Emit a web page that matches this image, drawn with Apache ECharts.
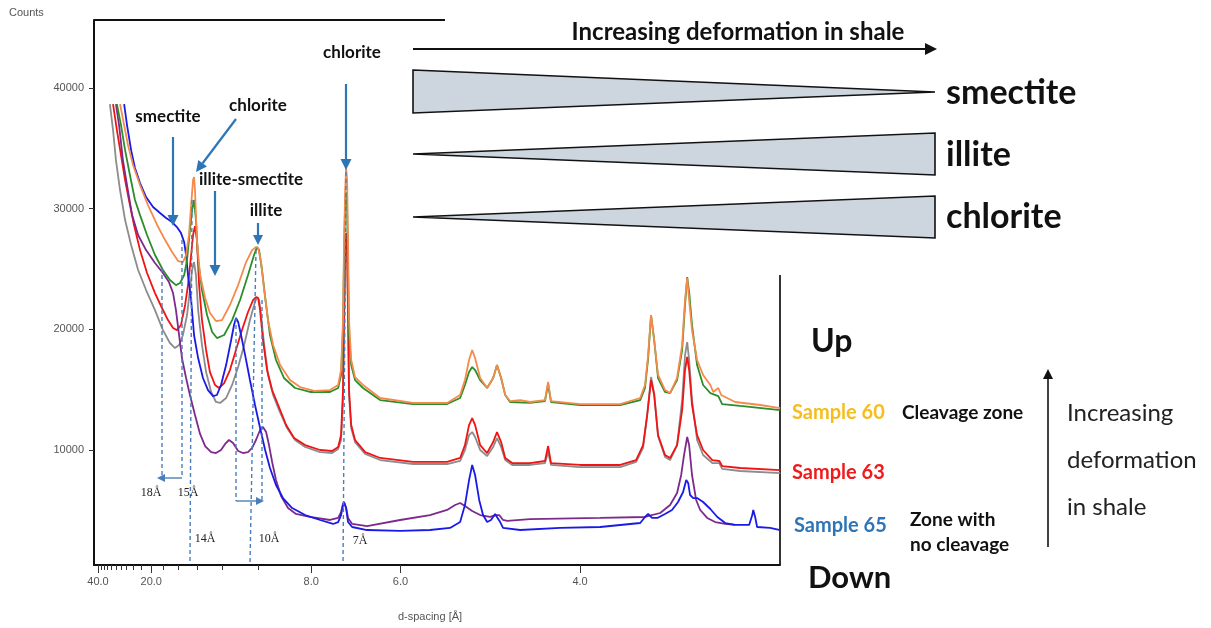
<!DOCTYPE html>
<html><head><meta charset="utf-8">
<script src="https://cdn.jsdelivr.net/npm/echarts@6/dist/echarts.min.js"></script>
<style>html,body{margin:0;padding:0;background:#fff}#c{width:1211px;height:628px}</style>
</head><body><div id="c"></div>
<script>
// ---- DATA (x = 2θ in degrees, Cu Kα; y = counts) ----
const dLabels = [40, 20, 8, 6, 4];
const dMinorTicks = [38, 36, 34, 32, 30, 28, 26, 24, 22, 18, 16, 14, 12, 10];
const yTickValues = [10000, 20000, 30000, 40000];

const s60orange = [[3.12,38670],[3.29,36930],[3.45,35280],[3.66,33620],[3.95,31960],[4.28,30300],[4.66,28650],[4.99,27400],[5.28,26410],[5.53,25660],[5.73,25580],[5.86,26160],[5.98,27820],[6.07,30300],[6.15,32380],[6.19,32620],[6.23,31550],[6.31,27400],[6.44,24500],[6.65,22600],[6.85,21350],[7.10,20690],[7.35,20770],[7.68,22020],[8.02,23670],[8.35,25580],[8.60,26570],[8.76,26820],[8.85,26740],[8.97,25580],[9.10,23260],[9.26,20770],[9.47,18700],[9.76,17040],[10.17,15800],[10.59,15220],[11.21,14890],[11.83,14970],[12.17,15390],[12.29,16630],[12.37,20770],[12.41,26570],[12.46,31550],[12.50,33370],[12.54,32380],[12.58,27400],[12.62,20770],[12.71,17460],[12.87,16050],[13.20,15390],[13.91,14310],[15.28,13900],[16.69,13900],[17.23,14560],[17.43,15800],[17.60,17460],[17.73,18290],[17.85,17620],[18.06,15970],[18.35,15140],[18.60,15970],[18.76,17040],[18.93,15970],[19.10,14560],[19.30,14060],[19.72,14140],[20.13,13980],[20.75,14140],[20.88,15640],[21.00,14060],[22.21,13810],[23.87,13810],[24.70,14310],[24.90,15390],[25.03,17870],[25.15,21190],[25.28,19120],[25.44,16220],[25.73,14970],[25.94,14720],[26.23,15970],[26.44,18700],[26.56,22430],[26.65,24250],[26.73,22430],[26.85,19940],[27.06,17460],[27.31,16220],[27.61,15390],[27.73,14810],[27.94,15140],[28.06,14560],[28.64,13980],[29.68,13730],[30.51,13480]];

const s60green = [[2.99,38670],[3.16,36930],[3.33,34860],[3.53,32790],[3.74,30720],[3.95,29470],[4.24,27820],[4.57,26160],[4.90,24920],[5.19,24090],[5.44,23670],[5.61,23840],[5.78,24500],[5.90,25750],[6.02,28230],[6.11,29890],[6.19,30720],[6.27,29060],[6.36,25750],[6.52,23260],[6.73,21190],[6.94,19780],[7.14,19280],[7.44,19530],[7.77,20770],[8.10,22430],[8.43,24500],[8.68,26160],[8.80,26820],[8.89,26570],[9.01,24920],[9.18,22020],[9.34,19530],[9.59,17460],[9.92,15970],[10.38,15140],[11.00,14810],[11.83,14810],[12.17,15140],[12.29,16220],[12.37,19940],[12.41,25750],[12.46,30720],[12.50,31380],[12.54,29890],[12.58,24920],[12.62,19530],[12.71,17040],[12.87,15800],[13.20,15140],[13.91,14140],[15.28,13810],[16.69,13810],[17.23,14310],[17.43,15390],[17.60,16460],[17.73,16880],[17.85,16630],[18.06,15800],[18.35,15140],[18.60,15970],[18.76,17040],[18.93,15970],[19.10,14560],[19.30,13980],[20.13,13900],[20.75,14060],[20.88,15470],[21.00,13980],[22.21,13730],[23.87,13730],[24.70,14140],[24.90,15140],[25.03,17620],[25.15,21190],[25.28,19120],[25.44,15970],[25.73,14810],[25.94,14720],[26.23,15800],[26.44,18290],[26.56,22020],[26.65,24340],[26.73,23090],[26.85,20360],[27.06,17040],[27.31,15390],[27.61,14720],[27.94,14470],[28.10,13810],[28.85,13650],[30.51,13310]];

const s63red = [[2.83,38670],[2.99,36520],[3.16,34450],[3.33,32380],[3.49,30720],[3.70,28650],[3.95,26570],[4.24,24670],[4.57,23010],[4.86,21770],[5.11,20770],[5.32,20110],[5.48,19940],[5.65,20360],[5.82,22020],[5.94,23670],[6.07,26160],[6.15,27820],[6.23,28560],[6.31,27400],[6.40,23670],[6.52,20770],[6.69,18290],[6.85,16460],[7.06,15390],[7.23,15140],[7.44,15550],[7.68,16630],[7.93,18290],[8.18,19940],[8.43,21440],[8.64,22430],[8.76,22680],[8.85,22600],[8.93,21600],[9.05,19120],[9.22,16630],[9.43,14970],[9.68,13730],[10.01,12070],[10.34,10990],[10.80,10410],[11.42,10000],[11.92,9920],[12.17,10250],[12.29,11240],[12.37,14970],[12.41,20770],[12.46,26160],[12.50,27980],[12.54,26990],[12.58,21600],[12.62,14970],[12.71,12070],[12.87,10830],[13.29,9830],[13.91,9340],[15.28,9010],[16.69,9010],[17.23,9340],[17.43,10410],[17.60,12070],[17.73,12650],[17.85,12070],[18.06,10410],[18.35,9750],[18.60,10660],[18.76,11490],[18.93,10660],[19.10,9340],[19.39,8920],[20.13,8920],[20.75,9090],[20.88,10330],[21.00,8920],[22.21,8760],[23.87,8760],[24.53,9170],[24.82,10410],[24.99,12900],[25.15,15800],[25.28,14560],[25.44,11240],[25.73,9590],[25.94,9340],[26.23,10410],[26.44,13310],[26.56,16630],[26.65,17710],[26.73,16630],[26.85,13730],[27.06,11240],[27.31,10000],[27.69,9170],[27.98,9090],[28.10,8670],[28.85,8510],[30.51,8340]];

const s63gray = [[2.70,38670],[2.83,36520],[2.95,34030],[3.12,31550],[3.33,29060],[3.58,26990],[3.87,24920],[4.20,23260],[4.57,21600],[4.90,19940],[5.19,18870],[5.40,18450],[5.57,18700],[5.73,19530],[5.90,21190],[6.02,23260],[6.11,24920],[6.19,25580],[6.27,24500],[6.36,21600],[6.52,18700],[6.69,16460],[6.90,14810],[7.10,13980],[7.27,13900],[7.52,14310],[7.77,15390],[8.02,16880],[8.27,18700],[8.51,20770],[8.72,22260],[8.80,22680],[8.89,22430],[8.97,21190],[9.10,18700],[9.26,16220],[9.47,14560],[9.72,13310],[10.05,11820],[10.38,10830],[10.80,10250],[11.42,9830],[11.92,9750],[12.17,10080],[12.29,10830],[12.37,14140],[12.41,19940],[12.46,25330],[12.50,26990],[12.54,26160],[12.58,20770],[12.62,14560],[12.71,11820],[12.87,10660],[13.29,9670],[13.91,9170],[15.28,8840],[16.69,8840],[17.23,9090],[17.43,10000],[17.60,11240],[17.73,11490],[17.85,11080],[18.06,10000],[18.35,9500],[18.60,10250],[18.76,10990],[18.93,10250],[19.10,9170],[19.39,8760],[20.13,8760],[20.75,8920],[20.88,9830],[21.00,8760],[22.21,8590],[23.87,8590],[24.53,9010],[24.82,10170],[24.99,12900],[25.15,16050],[25.28,14720],[25.44,11160],[25.73,9420],[25.94,9170],[26.23,10410],[26.44,14140],[26.56,17870],[26.65,18950],[26.73,17460],[26.85,14140],[27.06,10830],[27.31,9590],[27.69,8920],[27.98,8920],[28.10,8430],[28.85,8260],[30.51,8090]];

const s65blue = [[3.29,38670],[3.41,36930],[3.58,34860],[3.74,33370],[3.95,32130],[4.20,30970],[4.49,30140],[4.78,29640],[5.03,29230],[5.28,28890],[5.48,28480],[5.65,27980],[5.78,27240],[5.86,26160],[5.94,24500],[6.07,22430],[6.19,19530],[6.36,17620],[6.56,15970],[6.77,14970],[6.98,14470],[7.14,14560],[7.31,15390],[7.52,17040],[7.73,19120],[7.85,20360],[7.93,20940],[8.02,20610],[8.14,19530],[8.31,17870],[8.51,15800],[8.72,13730],[8.93,11820],[9.14,10000],[9.34,8510],[9.59,7100],[9.88,6020],[10.26,5190],[10.80,4610],[11.42,4200],[11.96,3870],[12.17,4030],[12.29,4610],[12.37,5440],[12.41,5690],[12.50,5190],[12.58,4030],[12.75,3620],[13.37,3370],[14.74,3290],[15.98,3370],[16.81,3540],[17.23,4030],[17.43,5440],[17.60,7510],[17.73,8760],[17.85,7930],[18.02,5860],[18.18,4610],[18.35,4030],[18.51,4200],[18.68,4700],[18.76,4700],[18.89,4030],[19.01,3540],[19.72,3370],[21.38,3540],[23.04,3620],[24.70,3950],[24.90,4450],[25.03,4700],[25.19,4370],[25.41,4370],[25.73,4700],[26.02,5030],[26.27,5690],[26.48,6520],[26.61,7510],[26.69,7270],[26.77,6270],[26.90,6020],[27.06,6020],[27.31,5690],[27.61,5110],[27.90,4450],[28.23,3950],[28.64,3790],[29.22,3790],[29.35,4610],[29.39,5030],[29.47,4450],[29.55,3620],[30.09,3540],[30.51,3370]];

const s65purple = [[2.95,38670],[3.08,36930],[3.24,34030],[3.41,31960],[3.62,29470],[3.87,27820],[4.20,26570],[4.57,25500],[4.90,24670],[5.15,23920],[5.32,23010],[5.44,21600],[5.57,19530],[5.69,17620],[5.86,15970],[6.02,14560],[6.23,12900],[6.44,11330],[6.65,10330],[6.90,9830],[7.10,9750],[7.31,10000],[7.48,10500],[7.64,10830],[7.81,10580],[8.02,9920],[8.22,9750],[8.43,9830],[8.60,10170],[8.76,10830],[8.93,11660],[9.05,11910],[9.18,11490],[9.30,10410],[9.43,9010],[9.59,7510],[9.80,6190],[10.09,5190],[10.42,4700],[11.00,4450],[11.83,4200],[12.17,4370],[12.29,4860],[12.37,5520],[12.41,5690],[12.50,5190],[12.58,4370],[12.75,3870],[13.37,3700],[14.74,4200],[15.98,4610],[16.69,5030],[17.02,5440],[17.23,5610],[17.43,5360],[17.73,4940],[18.06,4610],[18.47,4450],[18.72,4610],[18.85,4610],[19.01,4200],[19.18,4120],[20.13,4280],[23.04,4370],[24.90,4450],[25.53,4780],[25.94,5440],[26.23,6440],[26.40,7930],[26.52,9590],[26.65,11080],[26.73,10410],[26.85,7930],[27.02,5860],[27.19,5030],[27.48,4370],[27.81,4030],[28.23,3870],[28.64,3790]];

// ---- helpers ----
const LAMBDA = 1.5406;
const tt = d => 2 * Math.asin(LAMBDA / (2 * d)) * 180 / Math.PI;
const dOf = t => LAMBDA / (2 * Math.sin(t / 2 * Math.PI / 180));

const chart = echarts.init(document.getElementById('c'), null, {renderer: 'canvas'});
const X_MIN = 2.04, X_MAX = 30.5;

function lineSeries(name, data, color, z) {
  return {name, type: 'line', data, showSymbol: false, symbol: 'none', z,
    lineStyle: {color, width: 1.8}, animation: false, silent: true};
}

const BLUE = '#2e75b6';
const DASH = '#4a7ebb';
function arrow(x1, y1, x2, y2, color, w, hs) {
  const ang = Math.atan2(y2 - y1, x2 - x1);
  const bx = x2 - hs * Math.cos(ang), by = y2 - hs * Math.sin(ang);
  const px = -Math.sin(ang) * hs * 0.5, py = Math.cos(ang) * hs * 0.5;
  return [
    {type: 'line', shape: {x1, y1, x2: bx, y2: by}, style: {stroke: color, lineWidth: w}, z: 20},
    {type: 'polygon', shape: {points: [[x2, y2], [bx + px, by + py], [bx - px, by - py]]}, style: {fill: color}, z: 20}
  ];
}
function dline(x1, y1, x2, y2) {
  return {type: 'line', shape: {x1, y1, x2, y2}, style: {stroke: DASH, lineWidth: 1.4, lineDash: [4, 3]}, z: 19};
}
function txt(text, x, y, font, fill, align) {
  return {type: 'text', z: 30, style: {text, x, y, font, fill: fill || '#111', textAlign: align || 'left', textVerticalAlign: 'middle'}};
}

const CAL = 'Lato, "Open Sans", sans-serif';
const graphics = [
  // frame parts
  {type: 'line', shape: {x1: 94, y1: 20, x2: 445, y2: 20}, style: {stroke: '#111', lineWidth: 2}},
  {type: 'line', shape: {x1: 780, y1: 275, x2: 780, y2: 565}, style: {stroke: '#333', lineWidth: 2}},
  txt('Counts', 9, 13, '11px "Liberation Sans", Arial', '#555'),
  txt('d-spacing [Å]', 430, 617, '11px "Liberation Sans", Arial', '#555', 'center'),
  // mineral labels in plot
  txt('chlorite', 352, 53, 'bold 17px ' + CAL, '#111', 'center'),
  txt('smectite', 168, 117, 'bold 17px ' + CAL, '#111', 'center'),
  txt('chlorite', 258, 106, 'bold 17px ' + CAL, '#111', 'center'),
  txt('illite-smectite', 251, 180, 'bold 17px ' + CAL, '#111', 'center'),
  txt('illite', 266, 211, 'bold 17px ' + CAL, '#111', 'center'),
  ...arrow(173, 137, 173, 226, BLUE, 2.2, 11),
  ...arrow(236, 119, 196, 172, BLUE, 2.2, 11),
  ...arrow(215, 191, 215, 276, BLUE, 2.2, 11),
  ...arrow(258, 223, 258, 245, BLUE, 2.2, 10),
  ...arrow(346, 84, 346, 170, BLUE, 2.2, 11),
  // dashed guides
  dline(162, 268, 162, 478), dline(182, 240, 182, 478),
  ...arrow(182, 478, 157, 478, DASH, 1.4, 8),
  dline(192, 200, 190, 563),
  dline(236, 318, 236, 501), dline(262, 300, 262, 501),
  ...arrow(236, 501, 264, 501, DASH, 1.4, 8),
  dline(256, 250, 250, 563),
  dline(346, 172, 343, 563),
  txt('18Å', 151, 493, '12px "Liberation Serif", serif', '#222', 'center'),
  txt('15Å', 188, 493, '12px "Liberation Serif", serif', '#222', 'center'),
  txt('14Å', 205, 539, '12px "Liberation Serif", serif', '#222', 'center'),
  txt('10Å', 269, 539, '12px "Liberation Serif", serif', '#222', 'center'),
  txt('7Å', 360, 541, '12px "Liberation Serif", serif', '#222', 'center'),
  // right infographic
  txt('Increasing deformation in shale', 738, 32, 'bold 24px ' + CAL, '#111', 'center'),
  ...arrow(413, 49, 937, 49, '#111', 2, 12),
  {type: 'polygon', shape: {points: [[413, 70], [935, 92], [413, 113]]}, style: {fill: '#cdd6de', stroke: '#111', lineWidth: 1.6}},
  {type: 'polygon', shape: {points: [[413, 154], [935, 133], [935, 175]]}, style: {fill: '#cdd6de', stroke: '#111', lineWidth: 1.6}},
  {type: 'polygon', shape: {points: [[413, 217], [935, 196], [935, 238]]}, style: {fill: '#cdd6de', stroke: '#111', lineWidth: 1.6}},
  txt('smectite', 946, 93, 'bold 34px ' + CAL),
  txt('illite', 946, 155, 'bold 34px ' + CAL),
  txt('chlorite', 946, 217, 'bold 34px ' + CAL),
  txt('Up', 811, 342, 'bold 32px ' + CAL),
  txt('Down', 808, 578, 'bold 31px ' + CAL),
  txt('Sample 60', 792, 413, 'bold 20px ' + CAL, '#f5be1e'),
  txt('Sample 63', 792, 473, 'bold 20px ' + CAL, '#f01a1a'),
  txt('Sample 65', 794, 526, 'bold 20px ' + CAL, '#2e75b6'),
  txt('Cleavage zone', 902, 413, 'bold 19px ' + CAL),
  txt('Zone with', 910, 520, 'bold 19px ' + CAL),
  txt('no cleavage', 910, 545, 'bold 19px ' + CAL),
  ...arrow(1048, 547, 1048, 369, '#111', 1.6, 10),
  txt('Increasing', 1067, 413, '24px ' + CAL, '#222'),
  txt('deformation', 1067, 460, '24px ' + CAL, '#222'),
  txt('in shale', 1067, 507, '24px ' + CAL, '#222')
];

const axisFont = {fontSize: 11, color: '#555', fontFamily: '"Liberation Sans", Arial'};
chart.setOption({
  animation: false,
  backgroundColor: '#fff',
  grid: {left: 94, right: 431, top: 20, bottom: 63, containLabel: false},
  xAxis: [
    {type: 'value', min: X_MIN, max: X_MAX, position: 'bottom',
     axisLine: {show: true, onZero: false, lineStyle: {color: '#111', width: 2}},
     axisTick: {show: true, customValues: dLabels.map(tt), length: 8, lineStyle: {color: '#333', width: 1}},
     axisLabel: Object.assign({show: true, customValues: dLabels.map(tt), formatter: v => dOf(v).toFixed(1), margin: 11}, axisFont),
     splitLine: {show: false}},
    {type: 'value', min: X_MIN, max: X_MAX, position: 'bottom',
     axisLine: {show: false, onZero: false},
     axisTick: {show: true, customValues: dMinorTicks.map(tt), length: 5, lineStyle: {color: '#333', width: 1}},
     axisLabel: {show: false}, splitLine: {show: false}}
  ],
  yAxis: {type: 'value', min: 470, max: 45640,
    axisLine: {show: true, onZero: false, lineStyle: {color: '#111', width: 2}},
    axisTick: {show: true, customValues: yTickValues, length: 5, lineStyle: {color: '#333'}},
    axisLabel: Object.assign({show: true, customValues: yTickValues, formatter: v => String(v), margin: 10}, axisFont),
    splitLine: {show: false}},
  series: [
    lineSeries('Sample 63 (gray)', s63gray, '#8c8c8c', 2),
    lineSeries('Sample 63', s63red, '#f01414', 3),
    lineSeries('Sample 65 (purple)', s65purple, '#7d2a8c', 4),
    lineSeries('Sample 65', s65blue, '#1a1ae6', 5),
    lineSeries('Sample 60 (green)', s60green, '#2a8f2a', 6),
    lineSeries('Sample 60', s60orange, '#f58a4b', 7)
  ],
  graphic: {elements: graphics}
});
</script></body></html>
